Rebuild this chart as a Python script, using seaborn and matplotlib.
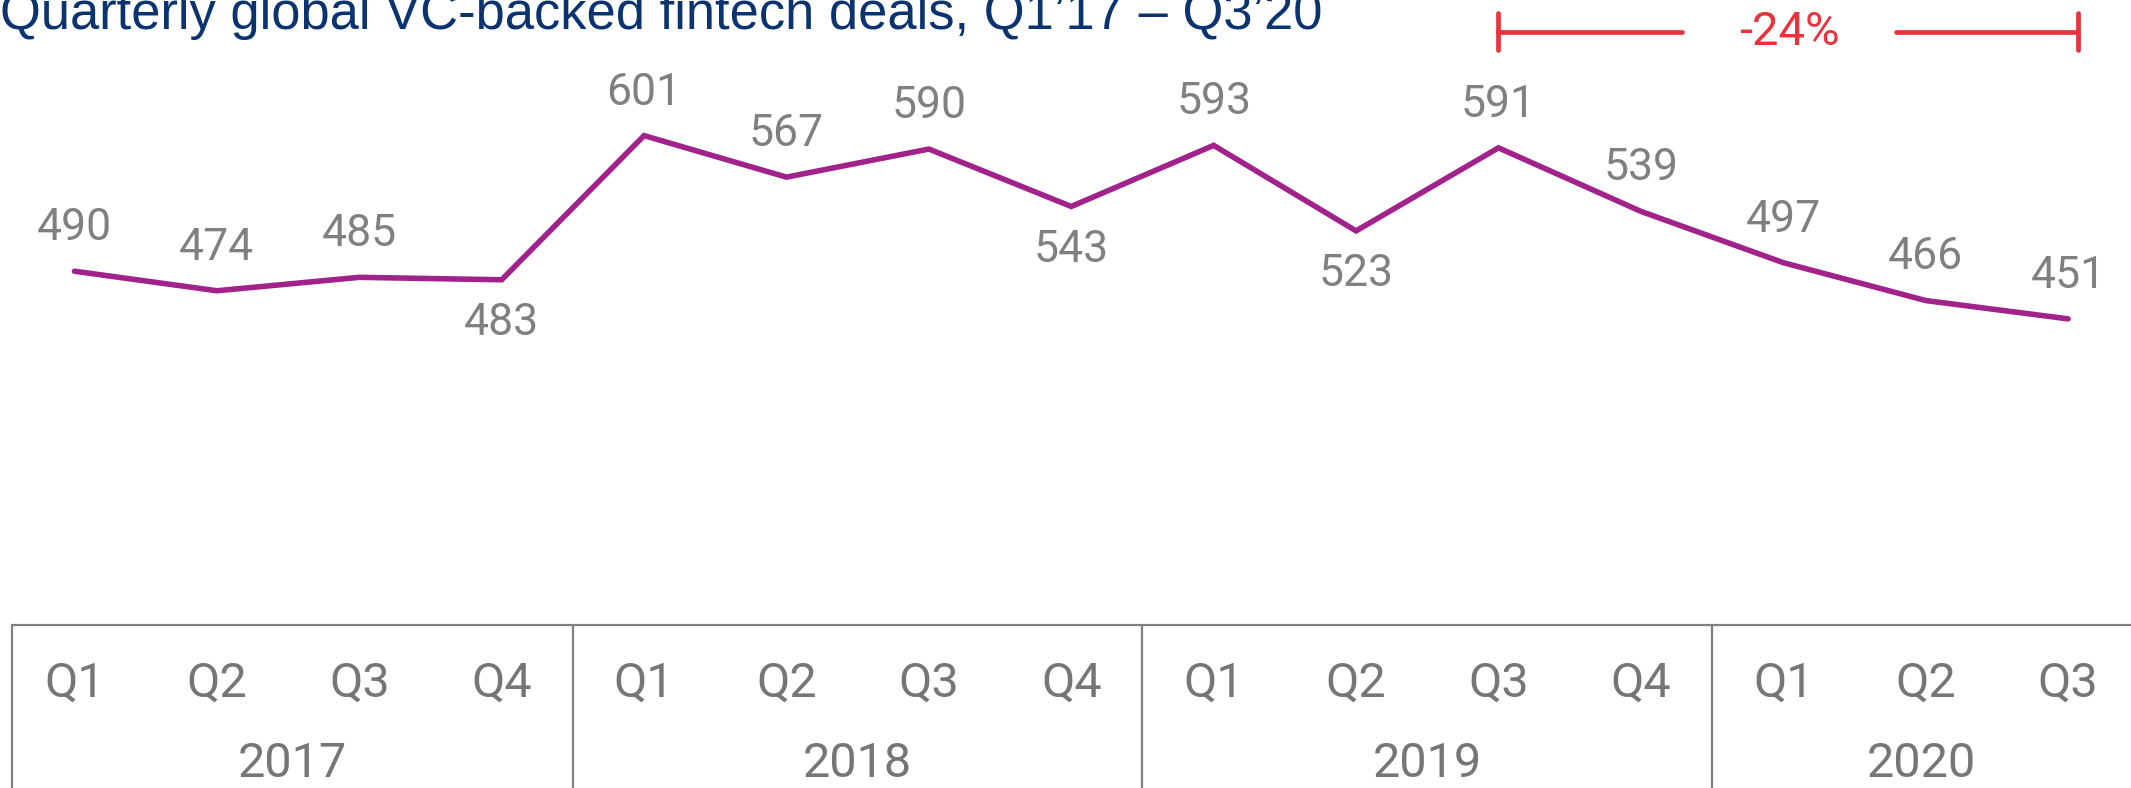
import matplotlib
matplotlib.use('Agg')
import matplotlib.pyplot as plt
import seaborn as sns
import pandas as pd

# 数据
quarters = ['Q1', 'Q2', 'Q3', 'Q4'] * 3 + ['Q1', 'Q2', 'Q3']
years = ['2017', '2018', '2019', '2020']
deals = [490, 474, 485, 483, 601, 567, 590, 543, 593, 523, 591, 539, 497, 466, 451]
label_below = [False, False, False, True, False, False, False, True,
               False, True, False, False, False, False, False]
change_text = '-24%'
title = 'Quarterly global VC-backed fintech deals, Q1’17 – Q3’20'

sns.set_theme(style='white')
plt.rcParams['font.family'] = ['Roboto', 'DejaVu Sans']

df = pd.DataFrame({'idx': range(len(deals)), 'deals': deals})

fig = plt.figure(figsize=(21.31, 7.88), dpi=100)
ax = fig.add_axes([0, 0, 1, 1])

purple = '#A1228A'
gray = '#808080'
red = '#E8323C'

sns.lineplot(data=df, x='idx', y='deals', ax=ax, color=purple,
             linewidth=4, solid_capstyle='round', solid_joinstyle='miter')

# 数值标签
for i, v in enumerate(deals):
    off = -31 if label_below[i] else 31
    ax.annotate(str(v), (i, v), xytext=(0, off), textcoords='offset points',
                ha='center', va='center', fontsize=32, color=gray)

xl, xr = -0.523, 14.442
ax.set_xlim(xl, xr)
ax.set_ylim(67, 712)
ax.axis('off')

# 底部表格
tr = ax.get_xaxis_transform()
left_edge = -0.437
seps = [left_edge, 3.5, 7.5, 11.5]
ax.plot([left_edge, xr], [0.207, 0.207], transform=tr, color=gray, lw=1.6, clip_on=False)
for xb in seps:
    ax.plot([xb, xb], [0, 0.207], transform=tr, color=gray, lw=1.6, clip_on=False)
for i, q in enumerate(quarters):
    ax.text(i, 0.133, q, transform=tr, ha='center', va='center', fontsize=35, color='#767676')
bounds = seps + [xr]
for k, y in enumerate(years):
    xc = (bounds[k] + bounds[k + 1]) / 2
    ax.text(xc, 0.031, y, transform=tr, ha='center', va='center', fontsize=35, color='#767676')

# -24% 标注
x0, x1 = 10, 14.07
yb = 1 - 32 / 788
ax.plot([x0, 11.29], [yb, yb], transform=tr, color=red, lw=3.4, clip_on=False)
ax.plot([12.79, x1], [yb, yb], transform=tr, color=red, lw=3.4, clip_on=False)
for xt in [x0, x1]:
    ax.plot([xt, xt], [1 - 13 / 788, 1 - 50 / 788], transform=tr, color=red, lw=3.4, clip_on=False)
ax.text(12.04, yb, change_text, transform=tr, ha='center', va='center',
        fontsize=34, color=red)

# 标题
fig.text(0.0, 1 - 29 / 788, title, ha='left', va='baseline', fontsize=37.8,
         color='#0B3370', family=['Liberation Sans', 'DejaVu Sans'])

fig.savefig('out.png', dpi=100)
